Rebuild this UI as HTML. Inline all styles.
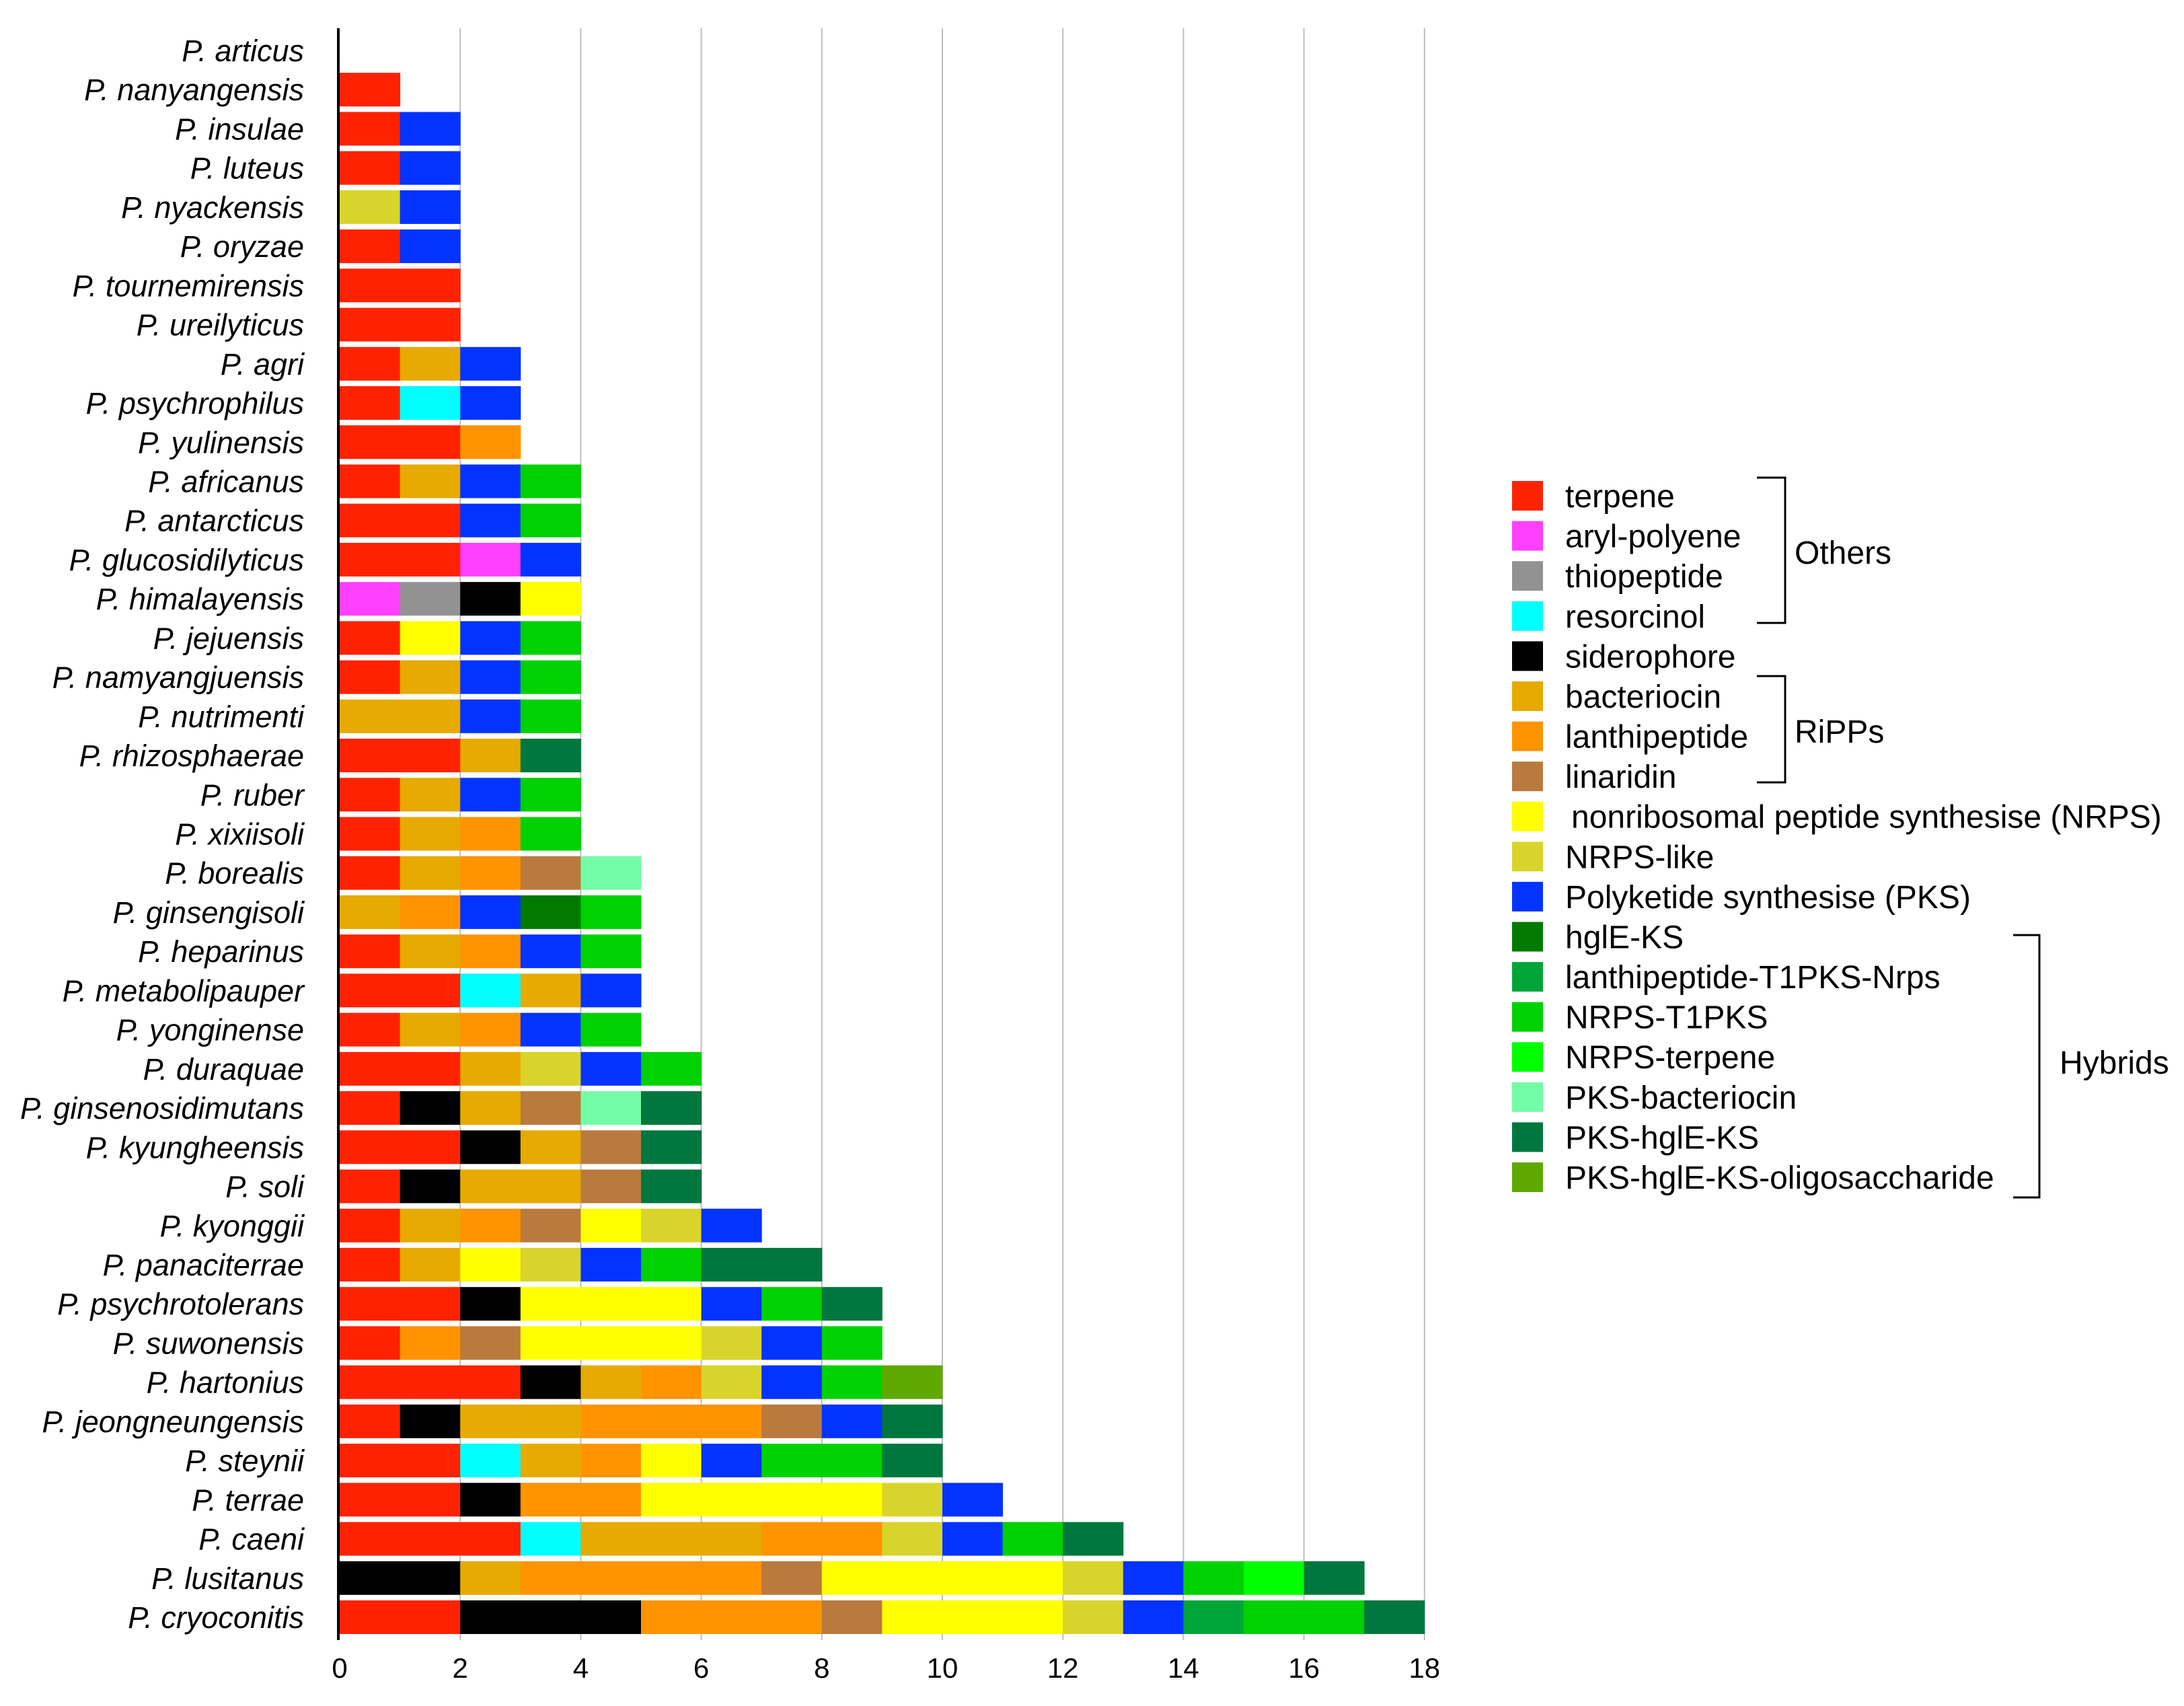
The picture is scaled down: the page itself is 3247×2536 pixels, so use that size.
<!DOCTYPE html>
<html><head><meta charset="utf-8"><style>
html,body{margin:0;padding:0;background:#fff;}
svg{display:block;font-family:"Liberation Sans",Arial,sans-serif;}
</style></head><body>
<svg id="chart" width="3247" height="2536" viewBox="0 0 3247 2536" xmlns="http://www.w3.org/2000/svg">
<g id="grid"></g>
<g id="bars"></g>
<g id="ylabels"></g>
<g id="xlabels"></g>
<g id="legend"></g>
</svg>
<script>
const categories = ["terpene","aryl-polyene","thiopeptide","resorcinol","siderophore","bacteriocin","lanthipeptide","linaridin","nonribosomal peptide synthesise (NRPS)","NRPS-like","Polyketide synthesise (PKS)","hglE-KS","lanthipeptide-T1PKS-Nrps","NRPS-T1PKS","NRPS-terpene","PKS-bacteriocin","PKS-hglE-KS","PKS-hglE-KS-oligosaccharide"];
const colors = ["#ff2200","#ff40ff","#929292","#00ffff","#000000","#e6aa00","#ff9300","#ba7a3e","#ffff00","#d8d42c","#0433ff","#007a00","#00a53a","#00d100","#00ff00","#73fca6","#00773e","#5fa800"];
const species = ["P. articus","P. nanyangensis","P. insulae","P. luteus","P. nyackensis","P. oryzae","P. tournemirensis","P. ureilyticus","P. agri","P. psychrophilus","P. yulinensis","P. africanus","P. antarcticus","P. glucosidilyticus","P. himalayensis","P. jejuensis","P. namyangjuensis","P. nutrimenti","P. rhizosphaerae","P. ruber","P. xixiisoli","P. borealis","P. ginsengisoli","P. heparinus","P. metabolipauper","P. yonginense","P. duraquae","P. ginsenosidimutans","P. kyungheensis","P. soli","P. kyonggii","P. panaciterrae","P. psychrotolerans","P. suwonensis","P. hartonius","P. jeongneungensis","P. steynii","P. terrae","P. caeni","P. lusitanus","P. cryoconitis"];
// segments: [categoryIndex, count]
const segments = [
[],
[[0,1]],
[[0,1],[10,1]],
[[0,1],[10,1]],
[[9,1],[10,1]],
[[0,1],[10,1]],
[[0,2]],
[[0,2]],
[[0,1],[5,1],[10,1]],
[[0,1],[3,1],[10,1]],
[[0,2],[6,1]],
[[0,1],[5,1],[10,1],[13,1]],
[[0,2],[10,1],[13,1]],
[[0,2],[1,1],[10,1]],
[[1,1],[2,1],[4,1],[8,1]],
[[0,1],[8,1],[10,1],[13,1]],
[[0,1],[5,1],[10,1],[13,1]],
[[5,2],[10,1],[13,1]],
[[0,2],[5,1],[16,1]],
[[0,1],[5,1],[10,1],[13,1]],
[[0,1],[5,1],[6,1],[13,1]],
[[0,1],[5,1],[6,1],[7,1],[15,1]],
[[5,1],[6,1],[10,1],[11,1],[13,1]],
[[0,1],[5,1],[6,1],[10,1],[13,1]],
[[0,2],[3,1],[5,1],[10,1]],
[[0,1],[5,1],[6,1],[10,1],[13,1]],
[[0,2],[5,1],[9,1],[10,1],[13,1]],
[[0,1],[4,1],[5,1],[7,1],[15,1],[16,1]],
[[0,2],[4,1],[5,1],[7,1],[16,1]],
[[0,1],[4,1],[5,2],[7,1],[16,1]],
[[0,1],[5,1],[6,1],[7,1],[8,1],[9,1],[10,1]],
[[0,1],[5,1],[8,1],[9,1],[10,1],[13,1],[16,2]],
[[0,2],[4,1],[8,3],[10,1],[13,1],[16,1]],
[[0,1],[6,1],[7,1],[8,3],[9,1],[10,1],[13,1]],
[[0,3],[4,1],[5,1],[6,1],[9,1],[10,1],[13,1],[17,1]],
[[0,1],[4,1],[5,2],[6,3],[7,1],[10,1],[16,1]],
[[0,2],[3,1],[5,1],[6,1],[8,1],[10,1],[13,2],[16,1]],
[[0,2],[4,1],[6,2],[8,4],[9,1],[10,1]],
[[0,3],[3,1],[5,3],[6,2],[9,1],[10,1],[13,1],[16,1]],
[[4,2],[5,1],[6,4],[7,1],[8,4],[9,1],[10,1],[13,1],[14,1],[16,1]],
[[0,2],[4,3],[6,3],[7,1],[8,3],[9,1],[10,1],[12,1],[13,2],[16,1]]
];
const xTicks = [0,2,4,6,8,10,12,14,16,18];
const groupLabels = ["Others","RiPPs","Hybrids"];

const NS="http://www.w3.org/2000/svg";
const X0=505, XU=89.6, Y0=75, BH=44, TOP=42, BOT=2438;
const rowStep=(2404-75)/(species.length-1);
function xs(v){return X0+v*XU;}
function ys(i){return Y0+i*rowStep;}
function mk(tag,attrs,parent){const e=document.createElementNS(NS,tag);for(const k in attrs)e.setAttribute(k,attrs[k]);parent.appendChild(e);return e;}

const grid=document.getElementById('grid');
xTicks.forEach(t=>{if(t===0)return;
 const l=mk('line',{x1:xs(t),x2:xs(t),y1:TOP,y2:BOT,stroke:'#bdbdbd','stroke-width':2},grid);
 
 
});
const bars=document.getElementById('bars');
segments.forEach((segs,i)=>{let acc=0;
 segs.forEach(s=>{
  const r=mk('rect',{x:xs(acc),y:ys(i)-BH/2-3,width:s[1]*XU+0.5,height:BH+6,fill:colors[s[0]]},bars);
  
  
  acc+=s[1];
 });
});
const ax=mk('line',{x1:X0-2,x2:X0-2,y1:TOP,y2:BOT,stroke:'#000','stroke-width':4},grid);



const yl=document.getElementById('ylabels');
species.forEach((s,i)=>{
 const t=mk('text',{x:452,y:ys(i)+16,'text-anchor':'end','font-size':45,'font-style':'italic'},yl);
 t.textContent=s;
 
 
});
const xl=document.getElementById('xlabels');
xTicks.forEach(v=>{
 const t=mk('text',{x:xs(v),y:2494,'text-anchor':'middle','font-size':42},xl);
 t.textContent=v;
 
 
});
const lg=document.getElementById('legend');
const LY0=737, LS=(1750-737)/17;
categories.forEach((c,i)=>{
 const y=LY0+i*LS;
 const r=mk('rect',{x:2248,y:y-22,width:46,height:44,fill:colors[i]},lg);
 
 
 const t=mk('text',{x:i===8?2336:2327,y:y+17,'font-size':48},lg);
 t.textContent=c;
 
 
});
function bracket(x,xl,y1,y2,name){
 const p=mk('path',{d:`M${xl} ${y1} H${x} V${y2} H${xl}`,fill:'none',stroke:'#000','stroke-width':3},lg);
 
 
}
bracket(2654,2612,710,926,'others-bracket');
bracket(2654,2612,1005,1163,'ripps-bracket');
bracket(3032,2993,1390,1780,'hybrids-bracket');
[[2668,838,0],[2668,1104,1],[3062,1596,2]].forEach(g=>{
 const t=mk('text',{x:g[0],y:g[1],'font-size':48},lg);
 t.textContent=groupLabels[g[2]];
 
 
});
</script>
</body></html>
